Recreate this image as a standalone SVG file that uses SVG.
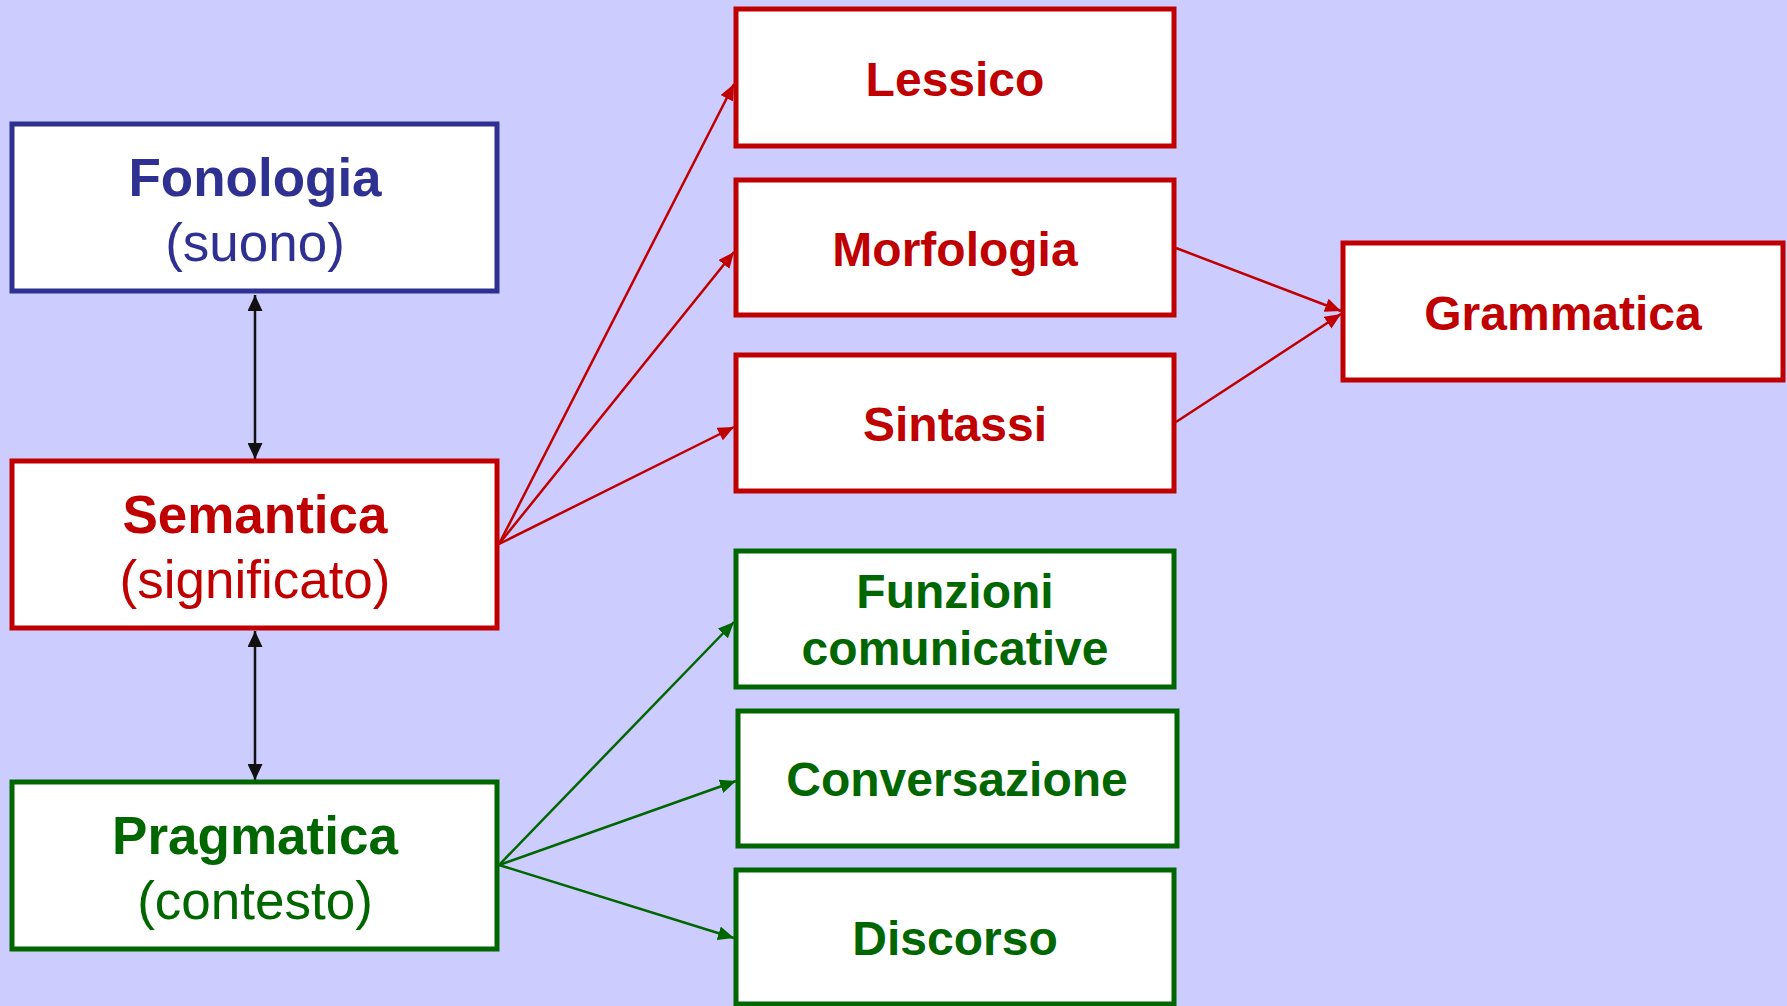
<svg xmlns="http://www.w3.org/2000/svg" width="1787" height="1006" viewBox="0 0 1787 1006">
<style>
.box{fill:#FFFFFF;stroke-width:5}
.blue{stroke:#2E3192}
.red{stroke:#C00000}
.green{stroke:#006600}
text{font-family:"Liberation Sans",Arial,sans-serif;text-anchor:middle}
.b{font-weight:bold}
.t54{font-size:53px}
.t48{font-size:48px}
.tblue{fill:#2E3192}
.tred{fill:#C00000}
.tgreen{fill:#006600}
.ln{fill:none;stroke-width:2.5}
</style>
<defs>
<marker id="ak" markerUnits="userSpaceOnUse" markerWidth="16" markerHeight="15" refX="16" refY="7.5" orient="auto-start-reverse"><path d="M0,0 L16,7.5 L0,15 z" fill="#111111"/></marker>
<marker id="ar" markerUnits="userSpaceOnUse" markerWidth="16" markerHeight="14" refX="16" refY="7" orient="auto"><path d="M0,0 L16,7 L0,14 z" fill="#C00000"/></marker>
<marker id="ag" markerUnits="userSpaceOnUse" markerWidth="16" markerHeight="14" refX="16" refY="7" orient="auto"><path d="M0,0 L16,7 L0,14 z" fill="#006600"/></marker>
</defs>
<rect width="1787" height="1006" fill="#CCCCFF"/>
<g id="connectors">
<line class="ln" stroke="#111111" x1="255" y1="295" x2="255" y2="459" marker-start="url(#ak)" marker-end="url(#ak)"/>
<line class="ln" stroke="#111111" x1="255" y1="631" x2="255" y2="780" marker-start="url(#ak)" marker-end="url(#ak)"/>
<line class="ln" stroke="#C00000" x1="499" y1="544" x2="734" y2="84" marker-end="url(#ar)"/>
<line class="ln" stroke="#C00000" x1="499" y1="544" x2="734" y2="252" marker-end="url(#ar)"/>
<line class="ln" stroke="#C00000" x1="499" y1="544" x2="734" y2="427" marker-end="url(#ar)"/>
<line class="ln" stroke="#C00000" x1="1176" y1="248" x2="1341" y2="311" marker-end="url(#ar)"/>
<line class="ln" stroke="#C00000" x1="1176" y1="422" x2="1341" y2="314" marker-end="url(#ar)"/>
<line class="ln" stroke="#006600" x1="499" y1="865" x2="734" y2="622" marker-end="url(#ag)"/>
<line class="ln" stroke="#006600" x1="499" y1="865" x2="736" y2="781" marker-end="url(#ag)"/>
<line class="ln" stroke="#006600" x1="499" y1="865" x2="734" y2="938" marker-end="url(#ag)"/>
</g>
<g id="fonologia">
<rect class="box blue" x="12" y="124" width="485" height="167"/>
<text class="b t54 tblue" x="255" y="196">Fonologia</text>
<text class="t54 tblue" x="255" y="261">(suono)</text>
</g>
<g id="semantica">
<rect class="box red" x="12" y="461" width="485" height="167"/>
<text class="b t54 tred" x="255" y="533">Semantica</text>
<text class="t54 tred" x="255" y="598">(significato)</text>
</g>
<g id="pragmatica">
<rect class="box green" x="12" y="782" width="485" height="167"/>
<text class="b t54 tgreen" x="255" y="854">Pragmatica</text>
<text class="t54 tgreen" x="255" y="919">(contesto)</text>
</g>
<g id="lessico">
<rect class="box red" x="736" y="9" width="438" height="137"/>
<text class="b t48 tred" x="955" y="96">Lessico</text>
</g>
<g id="morfologia">
<rect class="box red" x="736" y="180" width="438" height="135"/>
<text class="b t48 tred" x="955" y="266">Morfologia</text>
</g>
<g id="sintassi">
<rect class="box red" x="736" y="355" width="438" height="136"/>
<text class="b t48 tred" x="955" y="441">Sintassi</text>
</g>
<g id="grammatica">
<rect class="box red" x="1343" y="243" width="440" height="137"/>
<text class="b t48 tred" x="1563" y="330">Grammatica</text>
</g>
<g id="funzioni">
<rect class="box green" x="736" y="551" width="438" height="136"/>
<text class="b t48 tgreen" x="955" y="608">Funzioni</text>
<text class="b t48 tgreen" x="955" y="665">comunicative</text>
</g>
<g id="conversazione">
<rect class="box green" x="738" y="711" width="439" height="135"/>
<text class="b t48 tgreen" x="957" y="796">Conversazione</text>
</g>
<g id="discorso">
<rect class="box green" x="736" y="870" width="438" height="134"/>
<text class="b t48 tgreen" x="955" y="955">Discorso</text>
</g>
</svg>
